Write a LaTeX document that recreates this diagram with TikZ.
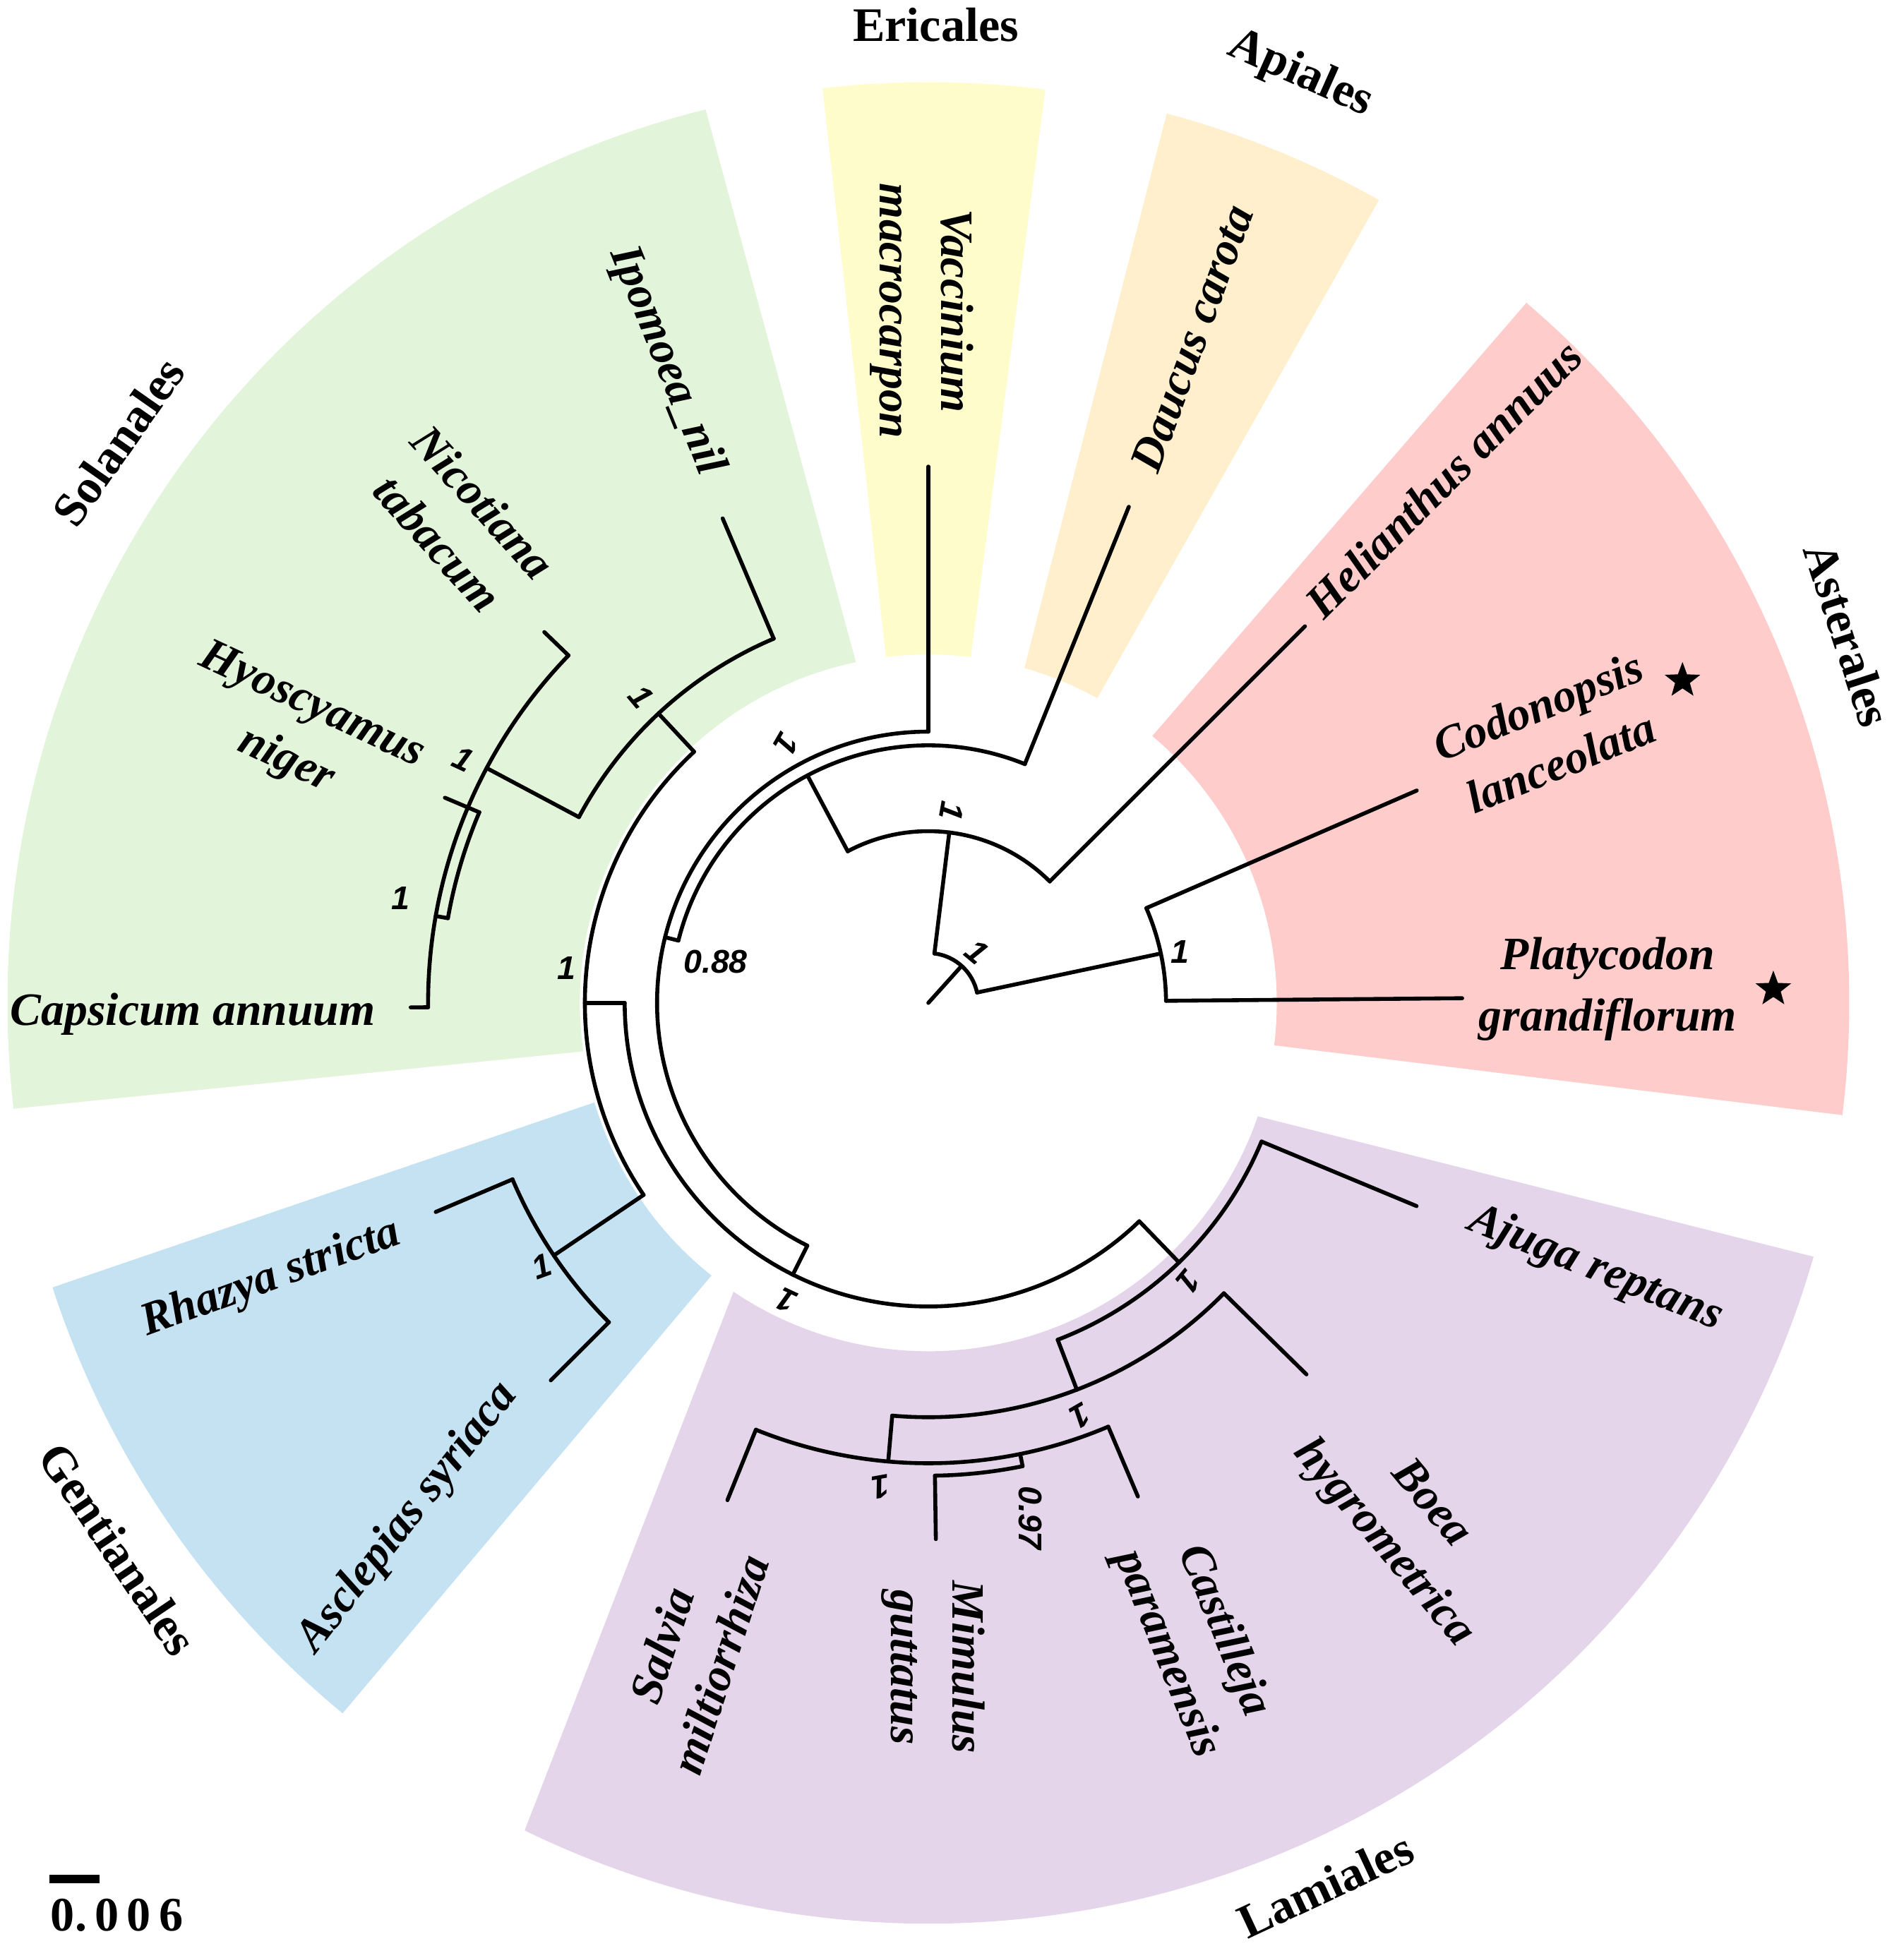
\documentclass[tikz,border=0pt]{standalone}
\usepackage{fontspec}
\setmainfont{Liberation Serif}
\newfontfamily\bsf{Liberation Sans}
\usetikzlibrary{shapes.geometric}
\definecolor{cgreen}{HTML}{E2F4DA}
\definecolor{cyellow}{HTML}{FFFCCC}
\definecolor{corange}{HTML}{FFEFCC}
\definecolor{cred}{HTML}{FFCCCC}
\definecolor{cblue}{HTML}{C4E2F2}
\definecolor{cpurple}{HTML}{E5D5EB}
\newcommand{\wedgefill}[5]{\fill[#1] (#2:280) arc[start angle=#2,end angle=#3,radius=280] -- (#5:740) arc[start angle=#5,end angle=#4,radius=740] -- cycle;}
\newcommand{\rad}[3]{\draw[br] (#1:#2) -- (#1:#3);}
\newcommand{\arcx}[3]{\draw[br] (#2:#1) arc[start angle=#2,end angle=#3,radius=#1];}
\begin{document}
\begin{tikzpicture}[x=0.01cm,y=0.01cm,
  br/.style={line width=0.9pt,line cap=round,line join=round},
  tip/.style={font=\fontsize{10.6}{14}\selectfont\bfseries\itshape,align=center,inner sep=0pt},
  clade/.style={font=\fontsize{11}{13}\selectfont\bfseries,inner sep=0pt},
  bs/.style={font=\fontsize{7.5}{9}\selectfont\bsf\bfseries\itshape,inner sep=0pt},
  st/.style={star,star points=5,star point ratio=2.4,fill=black,minimum size=0.3cm,inner sep=0pt}]
\useasboundingbox (-746,-762) rectangle (784,806);
% wedges: colour, inner start, inner end, outer start, outer end
\wedgefill{cred}{-7}{50}{-7}{49.5}
\wedgefill{corange}{61}{74}{60.7}{75}
\wedgefill{cyellow}{83}{97}{82.7}{96.6}
\wedgefill{cgreen}{102}{188}{104}{186.6}
\wedgefill{cblue}{196.6}{231.5}{198}{230.5}
\wedgefill{cpurple}{236}{341}{244}{344}
% tree
\coordinate (root) at (0,0);
\draw[br] (root) -- (48:38);
\arcx{40}{12}{83}
% Asterales pair
\rad{12}{40}{191}
\arcx{191}{0.5}{23.5}
\rad{23.5}{191}{428}
\rad{0.5}{191}{429}
% N1
\rad{83}{40}{138}
\arcx{138}{45}{118}
\rad{45}{138}{428}
% N2
\rad{118}{138}{207}
\arcx{207}{68}{166}
\rad{68}{207}{430}
% N3 (0.88)
\rad{166}{207}{218}
\arcx{218}{90}{243.5}
\rad{90}{218}{431}
% X
\rad{243.5}{218}{244}
\arcx{244}{180}{314}
% Y
\rad{180}{244}{276}
\arcx{276}{133}{214}
% Gentianales
\rad{214}{276}{363}
\arcx{363}{203}{225}
\rad{203}{363}{430}
\rad{225}{363}{429}
% Solanales
\rad{133}{276}{318}
\arcx{318}{113}{152}
\rad{113}{318}{423}
\rad{152}{318}{402}
\arcx{402}{136}{180.5}
\rad{136}{402}{429}
\rad{180.5}{402}{416}
\rad{170}{402}{392}
\arcx{392}{157}{170}
\rad{157}{392}{422}
% Lamiales
\rad{314}{244}{290}
\arcx{290}{291}{337.4}
\rad{337.4}{290}{425}
\rad{291}{290}{333}
\arcx{333}{265}{315.5}
\rad{315.5}{333}{426}
\rad{265}{333}{370}
\arcx{370}{248}{293}
\rad{248}{370}{431}
\rad{293}{370}{431}
\rad{281.5}{370}{380}
\arcx{380}{270.8}{281.5}
\rad{270.8}{380}{431}
% clade labels
\node[clade] (lEri) at (6,786) {Ericales};
\node[clade,rotate=-24] (lApi) at (299,746) {Apiales};
\node[clade,rotate=-72] (lAst) at (739,296) {Asterales};
\node[clade,rotate=55] (lSol) at (-651,451) {Solanales};
\node[clade,rotate=-56] (lGen) at (-651,-439) {Gentianales};
\node[clade,rotate=25] (lLam) at (319,-709) {Lamiales};
% tip labels
\node[tip,rotate=-90] (tVac) at (-5,556) {Vaccinium\\macrocarpon};
\node[tip,rotate=70] (tDau) at (212,534) {Daucus carota};
\node[tip,rotate=-68] (tIpo) at (-211,516) {Ipomoea\_nil};
\node[tip,rotate=-48] (tNic) at (-376,386) {Nicotiana\\tabacum};
\node[tip,rotate=-25] (tHyo) at (-506,216) {Hyoscyamus\\niger};
\node[tip] (tCap) at (-591,-9) {Capsicum annuum};
\node[tip,rotate=20] (tRha) at (-528,-222) {Rhazya stricta};
\node[tip,rotate=52] (tAsc) at (-418,-414) {Asclepias syriaca};
\node[tip,rotate=45] (tHel) at (414,421) {Helianthus annuus};
\node[tip,rotate=22] (tCod) at (499,216) {Codonopsis\\lanceolata};
\node[tip] (tPla) at (546,11) {Platycodon\\grandiflorum};
\node[tip,rotate=-22] (tAju) at (536,-214) {Ajuga reptans};
\node[tip,rotate=-50] (tBoe) at (384,-419) {Boea\\hygrometrica};
\node[tip,rotate=-68] (tCas) at (214,-514) {Castilleja\\paramensis};
\node[tip,rotate=-90] (tMim) at (4,-534) {Mimulus\\guttatus};
\node[tip,rotate=72] (tSal) at (-191,-524) {Salvia\\miltiorrhiza};
\node[st] (s1) at (606,259) {};
\node[st] (s2) at (679,11) {};
% support values
\node[bs] at (202,41) {1};
\node[bs,rotate=-40] at (39,41) {1};
\node[bs,rotate=-100] at (19,154) {1};
\node[bs,rotate=-120] at (-114,208) {1};
\node[bs] at (-171,33) {0.88};
\node[bs] at (-291,28) {1};
\node[bs,rotate=155] at (-114,-239) {1};
\node[bs,rotate=20] at (-311,-212) {1};
\node[bs,rotate=-50] at (-231,246) {1};
\node[bs,rotate=-25] at (-374,196) {1};
\node[bs] at (-424,84) {1};
\node[bs,rotate=-130] at (209,-224) {1};
\node[bs,rotate=-150] at (122,-332) {1};
\node[bs,rotate=-170] at (-38,-389) {1};
\node[bs,rotate=-90] at (82,-414) {0.97};
% scale bar
\coordinate (sb1) at (-706,-704);
\coordinate (sb2) at (-666,-704);
\draw[line width=2pt] (sb1) -- (sb2);
\node[font=\fontsize{11}{13}\selectfont\bfseries,inner sep=0pt] (sbl) at (-652,-733) {0.\,0\,0\,6};
\end{tikzpicture}
\end{document}
